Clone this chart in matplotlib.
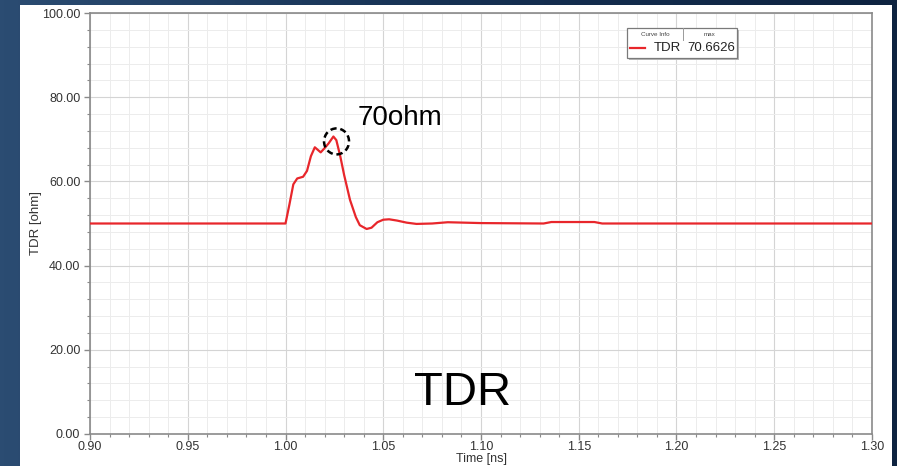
import matplotlib
matplotlib.use("Agg")
import matplotlib.pyplot as plt
import numpy as np
from matplotlib.patches import Ellipse, Rectangle
from matplotlib.ticker import MultipleLocator

plt.rcParams["font.family"] = ["Liberation Sans", "DejaVu Sans"]

# -------------------------
# DATA
# -------------------------
time_ns = [0.90, 1.000, 1.002, 1.004, 1.006, 1.009, 1.011, 1.013, 1.015, 1.0165,
           1.018, 1.020, 1.022, 1.0245, 1.026, 1.028, 1.030, 1.033, 1.036, 1.038,
           1.0415, 1.044, 1.047, 1.050, 1.053, 1.057, 1.062, 1.067, 1.075, 1.083,
           1.100, 1.132, 1.136, 1.158, 1.162, 1.30]
tdr_ohm = [50.0, 50.0, 54.5, 59.3, 60.7, 61.1, 62.5, 66.0, 68.1, 67.5,
           66.9, 67.9, 69.0, 70.66, 69.8, 66.0, 61.5, 55.6, 51.5, 49.6,
           48.7, 49.0, 50.3, 50.9, 51.0, 50.7, 50.2, 49.9, 50.0, 50.3,
           50.1, 50.0, 50.35, 50.35, 50.0, 50.0]
curve_name = "TDR"
curve_max = "70.6626"
x_ticks = [0.90, 0.95, 1.00, 1.05, 1.10, 1.15, 1.20, 1.25, 1.30]
y_ticks = [0, 20, 40, 60, 80, 100]
marked_point = (1.0261, 69.5)

W, H = 897, 466
fig = plt.figure(figsize=(W / 100, H / 100), dpi=100)


def fx(px):
    return px / W


def fy(py):
    return 1 - py / H


# slide background: dark blue gradient
bg = fig.add_axes([0, 0, 1, 1], zorder=-10)
grad = np.linspace(0, 1, 256)[None, :]
bg.imshow(grad, aspect="auto", cmap=matplotlib.colors.LinearSegmentedColormap.from_list(
    "bg", ["#2b4c72", "#163153", "#0e2340"]), extent=[0, 1, 0, 1])
bg.axis("off")

# white panel behind the chart
fig.patches.append(Rectangle((fx(20), 0), fx(892) - fx(20), fy(5), transform=fig.transFigure,
                             facecolor="white", edgecolor="none", zorder=-5))

ax = fig.add_axes([fx(90), fy(434), fx(872) - fx(90), fy(13) - fy(434)])
ax.set_facecolor("white")

ax.plot(time_ns, tdr_ohm, color="#e8262b", lw=1.6, zorder=3, solid_joinstyle="round")

ax.set_xlim(0.90, 1.30)
ax.set_ylim(0, 100)
ax.set_xticks(x_ticks)
ax.set_xticklabels([f"{v:.2f}" for v in x_ticks])
ax.set_yticks(y_ticks)
ax.set_yticklabels([f"{v:.2f}" for v in y_ticks])
ax.xaxis.set_minor_locator(MultipleLocator(0.01))
ax.yaxis.set_minor_locator(MultipleLocator(4))
ax.grid(which="major", color="#d4d4d4", lw=0.8)
ax.grid(which="minor", color="#ececec", lw=0.7)
ax.set_axisbelow(True)
for s in ax.spines.values():
    s.set_color("#8a8a8a")
    s.set_linewidth(1.2)
ax.tick_params(which="major", direction="out", length=4, width=1, color="#8a8a8a",
               labelsize=9, labelcolor="#333333")
ax.tick_params(which="minor", direction="out", length=2.5, width=0.8, color="#8a8a8a")
ax.tick_params(axis="x", pad=1)
ax.tick_params(axis="y", pad=3)
ax.set_xlabel("Time [ns]", fontsize=9, color="#333333", labelpad=0)
ax.set_ylabel("TDR [ohm]", fontsize=9.5, color="#333333", labelpad=0)

# dashed circle around the peak
ax.add_patch(Ellipse(marked_point, 25 / 1955, 26 / 4.21, fill=False, ec="black",
                     lw=1.8, ls=(0, (2.5, 1.5)), zorder=4))
ax.text(1.0371, 75.0, "70ohm", fontsize=20, color="black", ha="left", va="center")
ax.text(1.0908, 6.9, "TDR", fontsize=34, color="black", ha="center", va="baseline")

# curve info box (top right)
fig.patches.append(Rectangle((fx(629), fy(60)), fx(110), fy(28) - fy(58), transform=fig.transFigure,
                             facecolor="#b8b8b8", edgecolor="none", zorder=5))
fig.patches.append(Rectangle((fx(627), fy(58)), fx(110), fy(28) - fy(58), transform=fig.transFigure,
                             facecolor="white", edgecolor="#7a7a7a", lw=0.9, zorder=6))
fig.lines.append(plt.Line2D([fx(683), fx(683)], [fy(28), fy(40)], transform=fig.transFigure,
                            color="#9a9a9a", lw=0.7, zorder=7))
fig.lines.append(plt.Line2D([fx(630), fx(645)], [fy(48), fy(48)], transform=fig.transFigure,
                            color="#e8262b", lw=1.6, zorder=7))
fig.text(fx(655), fy(34), "Curve Info", fontsize=4.5, color="#444444", ha="center", va="center", zorder=7)
fig.text(fx(710), fy(34), "max", fontsize=4.5, color="#444444", ha="center", va="center", zorder=7)
fig.text(fx(681), fy(48.5), curve_name, fontsize=9.5, color="#222222", ha="right", va="center", zorder=7)
fig.text(fx(687), fy(48.5), curve_max, fontsize=9.5, color="#222222", ha="left", va="center", zorder=7)

fig.savefig("out.png", dpi=100)
